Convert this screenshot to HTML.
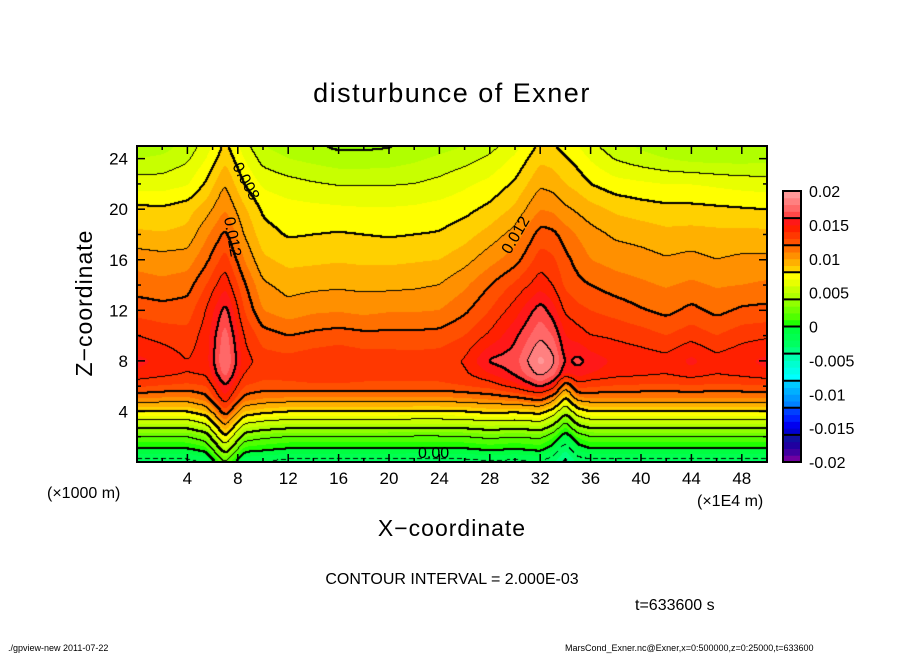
<!DOCTYPE html>
<html><head><meta charset="utf-8"><style>
body{margin:0;background:#fff;width:904px;height:654px;overflow:hidden;position:relative;font-family:"Liberation Sans",sans-serif}
svg{position:absolute;left:0;top:0}
canvas{position:absolute;left:137px;top:146px}
</style></head><body>
<canvas id="cv" width="630" height="316"></canvas>
<svg id="sv" width="904" height="654"></svg>
<script>
// grid coordinates (x axis units, z in 1000 m)
const xCols=[0,2,4,5.5,7,8.5,10,12,14,16,18,20,22,24,26,28,30,32,33,34,35,36,38,40,42,44,46,48,50];
const zRows=[0,1,2,3,4,5,6,7,8,10,12,14,16,18,20,22,24,25];
// field values in units of 1E-3, one array per z row
const row0 =[-2.5,-2.5,-2.5,-2,2.0,-2,-2.2,-2.5,-2.5,-2.5,-2.5,-2.5,-2.5,-2.5,-2.5,-2.3,-2.4,-2.2,-2.8,-4.5,-2.8,-2.5,-2.5,-2.5,-2.5,-2.5,-2.5,-2.5,-2.5];
const row1 =[-0.2,-0.2,-0.2,0.5,5.0,0.5,0.2,-0.2,-0.2,-0.2,-0.2,-0.2,-0.3,-0.3,-0.2,0.2,-0.1,0.3,-0.8,-3.0,-0.8,-0.2,-0.2,-0.2,-0.2,-0.2,-0.2,-0.2,-0.2];
const row2 =[2,2,2,3,8.0,3,2.4,2,2,2,2,2,1.9,1.9,2,2.4,2.1,2.4,1.2,-1.0,1.2,2,2,2,2,2,2,2,2];
const row3 =[5,5,5,6,10.5,6,5.4,5,5,5,5,5,4.9,4.9,5,5.4,5.1,5.5,4.2,1.5,4.2,5,5,5,5,5,5,5,5];
const row4 =[8,8,8,9,12.8,9,8.4,8,8,8,8,8,7.9,7.9,8,8.4,8.2,8.6,7.2,4.5,7.2,8,8,8,8,8,8,8,8];
const row5 =[11,10.8,10.7,11.5,14.8,11.5,11,10.8,10.8,10.8,10.8,10.8,10.7,10.7,10.9,11.2,11.6,12.5,10.8,7.5,10.6,10.9,10.9,10.9,10.9,10.9,10.9,10.9,11];
const row6 =[13.2,12.9,12.7,13,16,13,12.6,12.7,12.8,12.8,12.7,12.7,12.7,12.7,13,13.4,14.5,16.2,15.0,10.5,13.5,13.2,12.9,12.8,12.7,12.9,12.7,12.8,12.9];
const row7 =[14.8,14.4,14,14.2,17.5,14,13.4,13.4,13.6,13.7,13.5,13.5,13.4,13.5,13.8,15,16.2,18.5,17.5,15,15.5,15,14.5,14.3,14.1,14.6,14.1,14.4,14.8];
const row8 =[15.3,14.8,14.0,14.6,18.2,14.5,13.5,13.4,13.7,13.9,13.6,13.6,13.5,13.6,14.1,16.2,16.6,19.4,18.5,15.8,16.4,15.6,14.8,14.6,14.4,15.3,14.4,14.8,15.3];
const row10=[14.0,13.6,13.3,14.5,17.6,14.0,12.5,12.0,12.3,12.5,12.3,12.3,12.3,12.4,13.0,14.2,15.8,17.8,17.0,15.0,14.5,14.0,13.8,13.5,13.0,13.6,13.0,13.6,13.8];
const row12=[12.6,12.4,12.5,14.0,16.5,13.0,11.0,10.4,10.8,10.9,10.7,10.9,10.9,11.0,11.8,13.0,14.5,16.6,15.5,13.8,13.3,13.0,12.6,12.1,11.7,12.3,11.7,12.2,12.3];
const row14=[11.5,11.3,11.6,13.0,14.8,12.2,10.2,9.6,9.7,9.8,9.7,9.7,9.8,10.0,10.8,12.0,13.2,14.6,14.0,12.8,12.3,12.0,11.5,11.2,10.9,11.2,10.9,11.0,11.2];
const row16=[10.6,10.4,10.5,11.8,13.5,11.0,9.2,8.7,8.8,8.9,8.8,8.8,8.9,9.0,9.6,10.6,11.6,13.5,13.2,12.3,11.6,11.0,10.6,10.4,10.1,10.3,10.0,10.2,10.2];
const row18=[9.2,9.1,9.3,10.8,12.3,10.0,8.4,7.9,8.0,8.1,8.0,7.9,8.0,8.1,8.6,9.4,10.4,12.5,12.3,11.5,10.9,10.4,9.8,9.6,9.3,9.4,9.3,9.3,9.3];
const row20=[8.3,8.2,8.6,9.5,11.0,9.2,7.8,7.4,7.3,7.2,7.1,7.1,7.2,7.4,7.7,8.3,9.2,11.0,10.8,10.2,9.8,9.4,8.8,8.5,8.3,8.3,8.2,8.1,8.0];
const row22=[6.5,6.5,6.9,8.2,10.0,8.0,6.8,6.4,6.1,5.9,5.9,5.9,6.0,6.3,6.8,7.3,8.2,9.8,9.6,9.0,8.6,8.0,7.4,7.2,7.0,7.0,6.8,6.6,6.5];
const row24=[5.0,5.2,5.8,7.0,8.8,7.0,5.6,5.0,4.7,4.4,4.4,4.5,4.8,5.2,5.6,6.2,7.2,8.8,8.6,8.1,7.6,6.9,5.9,5.4,5.0,4.7,4.6,4.6,4.7];
const row25=[4.4,4.6,5.3,6.5,8.3,6.5,5.0,4.5,4.1,3.8,3.8,3.9,4.2,4.6,5.0,5.6,6.6,8.3,8.1,7.6,7.0,6.3,5.3,4.8,4.4,4.1,4.0,4.1,4.2];
const field=[row0,row1,row2,row3,row4,row5,row6,row7,row8,row10,row12,row14,row16,row18,row20,row22,row24,row25];
// colour levels: 40 shades, 1E-3 each from -20 to 20 (bottom->top)
const shades=['#7000a0','#4000a0','#2000a0','#1010a0','#0000d0','#0000f0','#0020ff','#0040ff','#0080ff','#0098ff','#00b0ff','#00c8ff','#00ffff','#00ffe8','#00ffd0','#00ffb0','#00ff80','#00ff60','#00ff50','#00ff40','#20ff00','#50ff00','#70ff00','#90ff00','#b0ff00','#c8ff00','#e8ff00','#ffff00','#ffd000','#ffb000','#ff9000','#ff7000','#ff5000','#ff3800','#ff2000','#ff1818','#ff4848','#ff6868','#ff8080','#ff9898'];
const xTicks=[4,8,12,16,20,24,28,32,36,40,44,48];
const zTicks=[4,8,12,16,20,24];
const cbLabels=['0.02','0.015','0.01','0.005','0','-0.005','-0.01','-0.015','-0.02'];
const cbValues=[0.02,0.015,0.01,0.005,0,-0.005,-0.01,-0.015,-0.02];

const PX=137,PY=146,PW=630,PH=316,XMAX=50,ZMAX=25;
const sx=x=>PX+x/XMAX*PW, sz=z=>PY+PH-z/ZMAX*PH;
function seg(arr,v){let i=0;while(i<arr.length-2&&v>arr[i+1])i++;return [i,(v-arr[i])/(arr[i+1]-arr[i])];}
function val(x,z){const [i,tx]=seg(xCols,x),[j,tz]=seg(zRows,z);
 const a=field[j][i],b=field[j][i+1],c=field[j+1][i],d=field[j+1][i+1];
 return (a*(1-tx)+b*tx)*(1-tz)+(c*(1-tx)+d*tx)*tz;}
const cv=document.getElementById('cv'),ctx=cv.getContext('2d');
const img=ctx.createImageData(PW,PH);
let V=new Float32Array(PW*PH);
for(let py=0;py<PH;py++)for(let px=0;px<PW;px++){V[py*PW+px]=val((px+0.5)/PW*XMAX,(PH-py-0.5)/PH*ZMAX);}
// smoothing (box blur, twice)
function blur(src,r){const t=new Float32Array(PW*PH),o=new Float32Array(PW*PH);
 for(let y=0;y<PH;y++)for(let x=0;x<PW;x++){let s=0,n=0;for(let d=-r;d<=r;d++){const xx=Math.min(PW-1,Math.max(0,x+d));s+=src[y*PW+xx];n++;}t[y*PW+x]=s/n;}
 for(let y=0;y<PH;y++)for(let x=0;x<PW;x++){let s=0,n=0;for(let d=-r;d<=r;d++){const yy=Math.min(PH-1,Math.max(0,y+d));s+=t[yy*PW+x];n++;}o[y*PW+x]=s/n;}
 return o;}
V=blur(blur(V,2),2);
function hex(h){return [parseInt(h.substr(1,2),16),parseInt(h.substr(3,2),16),parseInt(h.substr(5,2),16)];}
const rgb=shades.map(hex);
for(let k=0;k<PW*PH;k++){let ci=Math.floor(V[k]+20);ci=Math.max(0,Math.min(39,ci));const c=rgb[ci];img.data[k*4]=c[0];img.data[k*4+1]=c[1];img.data[k*4+2]=c[2];img.data[k*4+3]=255;}
// contour lines every 2E-3, thick every 4E-3, negative dashed
const lv=v=>Math.floor(v/2);
const mark=new Uint8Array(PW*PH);
for(let py=0;py<PH-1;py++)for(let px=0;px<PW-1;px++){const k=py*PW+px,a=lv(V[k]),b=lv(V[k+1]),c=lv(V[k+PW]);
 if(a!==b||a!==c){const L=Math.max(a,b,c)*2;if(L<0&&(px%8)>4)continue;mark[k]=(L%4===0)?2:1;}}
for(let py=0;py<PH;py++)for(let px=0;px<PW;px++){const m=mark[py*PW+px];if(!m)continue;
 const pts=m===2?[[0,0],[1,0],[0,1],[1,1]]:[[0,0]];
 for(const [dx,dy] of pts){const X=px+dx,Y=py+dy;if(X<PW&&Y<PH){const q=(Y*PW+X)*4;img.data[q]=0;img.data[q+1]=0;img.data[q+2]=0;}}}
ctx.putImageData(img,0,0);

const NS='http://www.w3.org/2000/svg',sv=document.getElementById('sv');
function el(t,a,txt){const e=document.createElementNS(NS,t);for(const k in a)e.setAttribute(k,a[k]);if(txt!==undefined)e.textContent=txt;sv.appendChild(e);return e;}
let e;
e=el('rect',{x:PX,y:PY,width:PW,height:PH,fill:'none',stroke:'#000','stroke-width':2});


for(let x=2;x<XMAX;x+=2){const L=(x%4===0)?8:4;
 e=el('line',{x1:sx(x),x2:sx(x),y1:PY+PH,y2:PY+PH-L,stroke:'#000','stroke-width':1.5});
 
 
 e=el('line',{x1:sx(x),x2:sx(x),y1:PY,y2:PY+L,stroke:'#000','stroke-width':1.5});
 
 }
for(let z=2;z<ZMAX;z+=2){const L=(z%4===0)?8:4;
 e=el('line',{x1:PX,x2:PX+L,y1:sz(z),y2:sz(z),stroke:'#000','stroke-width':1.5});
 
 
 e=el('line',{x1:PX+PW,x2:PX+PW-L,y1:sz(z),y2:sz(z),stroke:'#000','stroke-width':1.5});
 
 }
xTicks.forEach(t=>{e=el('text',{x:sx(t),y:484,'text-anchor':'middle','font-size':17},String(t));
 
 });
zTicks.forEach(t=>{e=el('text',{x:128,y:sz(t)+6,'text-anchor':'end','font-size':17},String(t));
 
 });
// colorbar
const CX=783,CY=191,CW=18,CH=271;
for(let i=0;i<40;i++){
 e=el('rect',{x:CX,y:CY+CH-(i+1)/40*CH,width:CW,height:CH/40+0.5,fill:shades[i]});
 
 }
for(let i=0;i<=10;i++){const y=CY+i/10*CH;
 e=el('line',{x1:CX,x2:CX+CW,y1:y,y2:y,stroke:'#000','stroke-width':2});
 
 }
e=el('rect',{x:CX,y:CY,width:CW,height:CH,fill:'none',stroke:'#000','stroke-width':2});


cbLabels.forEach((t,i)=>{const y=CY+(0.02-cbValues[i])/0.04*CH;
 e=el('text',{x:809,y:y+6,'font-size':16},t);
 
 });
</script>
<svg width="904" height="654" style="pointer-events:none">
<text x="452" y="102" text-anchor="middle" font-size="27" letter-spacing="1.5">disturbunce of Exner</text>
<text transform="translate(92,303) rotate(-90)" text-anchor="middle" font-size="23" letter-spacing="1">Z−coordinate</text>
<text x="452" y="536" text-anchor="middle" font-size="23" letter-spacing="1">X−coordinate</text>
<text x="47" y="498" font-size="16">(×1000 m)</text>
<text x="697" y="506" font-size="16">(×1E4 m)</text>
<text x="452" y="584" text-anchor="middle" font-size="16">CONTOUR INTERVAL = 2.000E-03</text>
<text x="635" y="610" font-size="16">t=633600 s</text>
<text x="8" y="651" font-size="9">./gpview-new   2011-07-22</text>
<text x="565" y="651" font-size="9">MarsCond_Exner.nc@Exner,x=0:500000,z=0:25000,t=633600</text>
<text transform="translate(232,166) rotate(62)" font-size="16">0.008</text>
<text transform="translate(224,218) rotate(80)" font-size="16">0.012</text>
<text transform="translate(510,255) rotate(-60)" font-size="16">0.012</text>
<text x="418" y="458" font-size="16">0.00</text>
</svg>
</body></html>
